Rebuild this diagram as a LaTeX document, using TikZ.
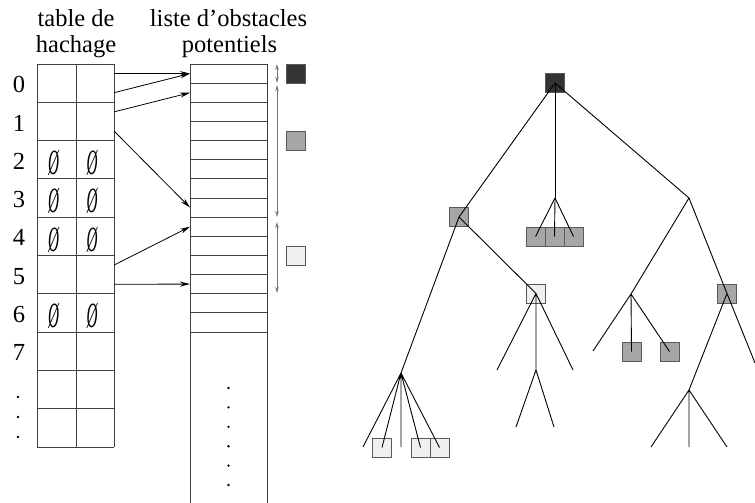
\documentclass[tikz,border=0pt]{standalone}
\usepackage{fontspec}
\setmainfont{Liberation Serif}
\usetikzlibrary{arrows.meta}

\begin{document}
\begin{tikzpicture}[
    x = 1pt, y = -1pt,
    txt/.style = {font = \fontsize{24.5}{26}\selectfont, inner sep = 0pt},
    grd/.style = {black!75, line width = 0.9pt},
    sq/.style  = {rectangle, draw = black!65, line width = 0.9pt,
                  minimum size = 19pt, inner sep = 0pt},
    dk/.style  = {sq, fill = black!80},
    md/.style  = {sq, fill = black!35},
    lt/.style  = {sq, fill = black!6},
    arr/.style = {-{Stealth[length=10pt, width=5pt]}, line width = 0.8pt},
    rng/.style = {{Stealth[length=6pt, width=3.5pt]}-{Stealth[length=6pt, width=3.5pt]},
                  black!55, line width = 1pt},
    br/.style  = {line width = 0.9pt}
  ]
    \useasboundingbox (0,0) rectangle (755,503);

    % ── Titles ───────────────────────────────────────────────────────────────
    \node[txt, anchor = base] (ttab1) at (76,27)    {table de};
    \node[txt, anchor = base] (ttab2) at (76,53)    {hachage};
    \node[txt, anchor = base] (tlst1) at (228.5,27) {liste d'obstacles};
    \node[txt, anchor = base] (tlst2) at (229.5,53) {potentiels};

    % ── Hash table ───────────────────────────────────────────────────────────
    \foreach \i in {0,...,10}
      \draw[grd] (37,64+38.3*\i) -- (114,64+38.3*\i);
    \foreach \x in {37,76,114}
      \draw[grd] (\x,64) -- (\x,447);
    \foreach \i in {0,...,7}
      \node[txt, anchor = base] (n\i) at (19,64+38.3*\i+28.7) {\i};
    \foreach \y in {397,417,437}
      \fill (18,\y) circle (1.3);
    \foreach \i in {2,3,4,6}
      \foreach \x/\c in {53.5/a,92/b}
        \node[txt] (e\i\c) at (\x,64+38.3*\i+22.5)
          {\scalebox{0.62}[1.45]{\itshape Ø}};
    \foreach \i in {0,...,9} {
      \coordinate (t\i a) at (114,64+38.3*\i+9.6);
      \coordinate (t\i b) at (114,64+38.3*\i+28.7);
    }

    % ── Obstacle list ────────────────────────────────────────────────────────
    \foreach \j in {0,...,14}
      \draw[grd] (190,64+19.14*\j) -- (267,64+19.14*\j);
    \draw[grd] (190,64) -- (190,503) (267,64) -- (267,503);
    \foreach \j in {0,...,5}
      \fill (228.5,388+19.4*\j) circle (1.3);
    \foreach \j in {0,...,13}
      \coordinate (l\j) at (190,64+19.14*\j+9.57);

    % ── Arrows table -> list ─────────────────────────────────────────────────
    \draw[arr] (t0a) -- (l0);
    \draw[arr] (t0b) -- (l0);
    \draw[arr] (t1a) -- (l1);
    \draw[arr] (t1b) -- (l7);
    \draw[arr] (t5a) -- (l8);
    \draw[arr] (t5b) -- (l11);

    % ── Ranges and levels ────────────────────────────────────────────────────
    \coordinate (r0) at (277,64);
    \coordinate (r1) at (277,83);
    \coordinate (r2) at (277,85);
    \coordinate (r3) at (277,217);
    \coordinate (r4) at (277,222);
    \coordinate (r5) at (277,293);
    \draw[rng] (r0) -- (r1);
    \draw[rng] (r2) -- (r3);
    \draw[rng] (r4) -- (r5);
    \node[dk] (k0) at (295.5,73.5)  {};
    \node[md] (k1) at (295.5,141)   {};
    \node[lt] (k2) at (295.5,256)   {};

    % ── Tree nodes ───────────────────────────────────────────────────────────
    \node[dk] (root) at (555,83)      {};
    \node[md] (a)    at (459,217)     {};
    \node[md] (m1)   at (535.5,236.5) {};
    \node[md] (m2)   at (554.5,236.5) {};
    \node[md] (m3)   at (573.5,236.5) {};
    \node[lt] (ar)   at (536,293.5)   {};
    \node[lt] (al2)  at (382,447.5)   {};
    \node[lt] (al4)  at (420.5,447.5) {};
    \node[lt] (al5)  at (439.5,447.5) {};
    \node[md] (rl2)  at (631.5,351.5) {};
    \node[md] (rl3)  at (669.5,351.5) {};
    \node[md] (rr)   at (727,293.5)   {};

    \coordinate (m)   at (555,198);
    \coordinate (r)   at (689,198);
    \coordinate (al)  at (401,373);
    \coordinate (al1) at (363,447);
    \coordinate (al3) at (401,447);
    \coordinate (ar1) at (497,370);
    \coordinate (ar2) at (536,370);
    \coordinate (ar3) at (573,370);
    \coordinate (ar4) at (516,427);
    \coordinate (ar5) at (554,427);
    \coordinate (rl)  at (631,294);
    \coordinate (rl1) at (593,351);
    \coordinate (rr1) at (755,363);
    \coordinate (rr2) at (689,390);
    \coordinate (rr3) at (651,447);
    \coordinate (rr4) at (689,447);
    \coordinate (rr5) at (727,447);

    % ── Tree edges ───────────────────────────────────────────────────────────
    \draw[br] (root.center) -- (a.center);
    \draw[br] (root.center) -- (m);
    \draw[br] (root.center) -- (r);
    \foreach \c in {m1,m2,m3}
      \draw[br] (m) -- (\c.center);
    \draw[br] (a.center) -- (al);
    \draw[br] (a.center) -- (ar.center);
    \draw[br] (al) -- (al1) (al) -- (al2.center) (al) -- (al3)
              (al) -- (al4.center) (al) -- (al5.center);
    \draw[br] (ar.center) -- (ar1) (ar.center) -- (ar2) (ar.center) -- (ar3);
    \draw[br] (ar2) -- (ar4) (ar2) -- (ar5);
    \draw[br] (r) -- (rl);
    \draw[br] (r) -- (rr.center);
    \draw[br] (rl) -- (rl1) (rl) -- (rl2.center) (rl) -- (rl3.center);
    \draw[br] (rr.center) -- (rr1) (rr.center) -- (rr2);
    \draw[br] (rr2) -- (rr3) (rr2) -- (rr4) (rr2) -- (rr5);
\end{tikzpicture}
\end{document}
